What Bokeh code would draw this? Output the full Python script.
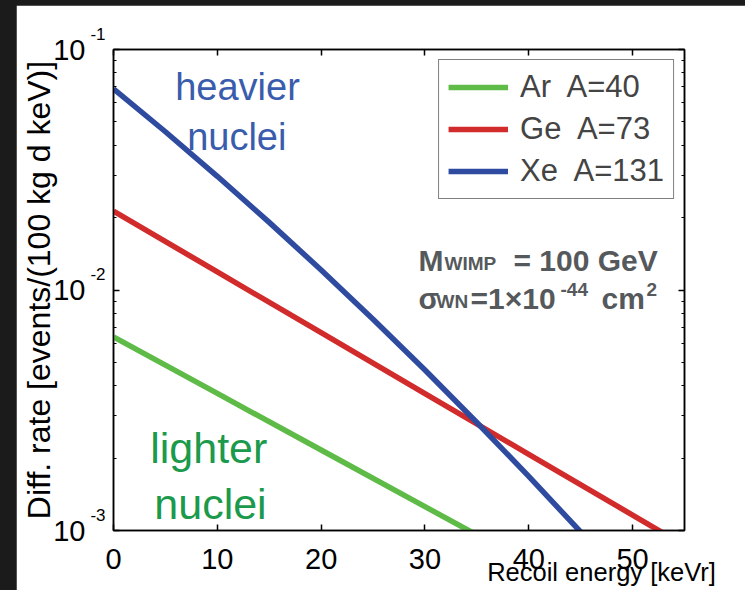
import math
from bokeh.plotting import figure
from bokeh.models import (Range1d, FixedTicker, LinearAxis, LogAxis, Label, Legend,
                          LegendItem, CustomJSTickFormatter, Spacer)
from bokeh.layouts import row, column
from bokeh.embed import file_html
from bokeh.resources import INLINE

# ---------------- data ----------------
energy_ar = [0, 10, 20, 30, 40]
rate_ar = [0.00638, 0.003714, 0.002161, 0.001257, 0.000731]

energy_ge = [0, 10, 20, 30, 40, 50, 55]
rate_ge = [0.0213, 0.01189, 0.006645, 0.003712, 0.002074, 0.001159, 0.000866]

energy_xe = [0, 5, 10, 15, 20, 25, 30, 35, 40, 45]
rate_xe = [0.0686, 0.0455, 0.0297, 0.01911, 0.01211, 0.00756, 0.004647, 0.002813, 0.001679, 0.000986]

series_names = ["Ar  A=40", "Ge  A=73", "Xe  A=131"]
series_colors = ["#5fbb47", "#d12b2b", "#2e4b9f"]

x_ticks = [0, 10, 20, 30, 40, 50]
y_ticks = [1e-3, 1e-2, 1e-1]
y_tick_exponents = ["-3", "-2", "-1"]
x_title = "Recoil energy [keVr]"
y_title = "Diff. rate [events/(100 kg d keV)]"

FONT = "Liberation Sans"
DARK = "#1b1b1b"

# ---------------- figure: canvas origin on the page at (16, 5) ----------------
OX, OY = 16, 5
W, H = 745 - OX, 590 - OY
BL, BR, BT, BB = 97, 61, 44, 60
p = figure(width=W, height=H, output_backend="svg", toolbar_location=None,
           x_range=Range1d(0, 55), y_range=Range1d(1e-3, 1e-1), y_axis_type="log",
           min_border_left=BL, min_border_right=BR, min_border_top=BT, min_border_bottom=BB)
p.background_fill_color = "white"
p.border_fill_color = "white"
p.outline_line_color = "black"
p.outline_line_width = 1.5
p.xgrid.visible = False
p.ygrid.visible = False

FL = OX + BL
FB = OY + H - BB
FW = W - BL - BR
FH = H - BT - BB
PXK = FW / 55.0
PXD = FH / 2.0

def dx(px):
    return (px - FL) / PXK

def dy(py):
    return 10 ** (-3 + (FB - py) / PXD)

minor = []
for dec in [1e-3, 1e-2]:
    for m in range(2, 10):
        minor.append(dec * m)

blank = CustomJSTickFormatter(code="return ''")

def tick_axis(ax, ticks, minor_ticks=None):
    ax.ticker = FixedTicker(ticks=ticks, minor_ticks=minor_ticks or [])
    ax.major_tick_in = 6
    ax.major_tick_out = 0
    ax.minor_tick_in = 3
    ax.minor_tick_out = 0
    ax.axis_line_color = "black"
    ax.axis_line_width = 1.5
    ax.major_tick_line_width = 1.5
    ax.minor_tick_line_width = 1.2

def label_axis(ax, ticks, formatter, size, standoff):
    ax.ticker = FixedTicker(ticks=ticks, minor_ticks=[])
    ax.axis_line_color = None
    ax.major_tick_line_color = None
    ax.minor_tick_line_color = None
    ax.major_tick_in = 0
    ax.major_tick_out = 0
    ax.minor_tick_in = 0
    ax.minor_tick_out = 0
    ax.formatter = formatter
    ax.major_label_text_font = FONT
    ax.major_label_text_font_size = size
    ax.major_label_text_color = "black"
    ax.major_label_standoff = standoff

# bottom: ticks + numbers
xa = p.xaxis[0]
tick_axis(xa, x_ticks)
xa.major_label_text_font = FONT
xa.major_label_text_font_size = "29px"
xa.major_label_text_color = "black"
xa.major_label_standoff = 18

# bottom, second row: axis title under the right part of the axis
xt = LinearAxis()
label_axis(xt, [dx(601)], CustomJSTickFormatter(code="return '%s'" % x_title), "25.5px", -14)
p.add_layout(xt, "below")

# left: tick marks next to the frame
ya = p.yaxis[0]
tick_axis(ya, y_ticks, minor)
ya.formatter = blank
ya.major_label_standoff = 0

# exponents, raised above each tick by a second (empty) line
exp_map = "{" + ",".join("%d:'%s\\n\\u00a0'" % (i, e) for i, e in enumerate(y_tick_exponents)) + "}"
ye = LogAxis()
label_axis(ye, y_ticks, CustomJSTickFormatter(code="return %s[index]" % exp_map), "17px", 8)
ye.major_label_text_line_height = 1.6
p.add_layout(ye, "left")

yb = LogAxis()
label_axis(yb, y_ticks, CustomJSTickFormatter(code="return '10'"), "29px", 2)
yb.axis_label = y_title
yb.axis_label_text_font = FONT
yb.axis_label_text_font_size = "32px"
yb.axis_label_text_font_style = "normal"
yb.axis_label_text_color = "black"
yb.axis_label_standoff = -7
p.add_layout(yb, "left")

top_ax = LinearAxis()
tick_axis(top_ax, x_ticks)
top_ax.formatter = blank
top_ax.major_label_standoff = 0
p.add_layout(top_ax, "above")
right_ax = LogAxis()
tick_axis(right_ax, y_ticks, minor)
right_ax.formatter = blank
right_ax.major_label_standoff = 0
p.add_layout(right_ax, "right")

# ---------------- lines ----------------
r_ar = p.line(energy_ar, rate_ar, line_color=series_colors[0], line_width=5.5)
r_ge = p.line(energy_ge, rate_ge, line_color=series_colors[1], line_width=5.5)
r_xe = p.line(energy_xe, rate_xe, line_color=series_colors[2], line_width=5.5)

legend = Legend(items=[LegendItem(label=series_names[0], renderers=[r_ar]),
                       LegendItem(label=series_names[1], renderers=[r_ge]),
                       LegendItem(label=series_names[2], renderers=[r_xe])],
                location="top_right")
legend.margin = 10
legend.padding = 9
legend.spacing = 6
legend.border_line_color = "black"
legend.border_line_width = 1.5
legend.background_fill_color = "white"
legend.background_fill_alpha = 1
legend.label_text_font = FONT
legend.label_text_font_size = "31px"
legend.label_height = 36
legend.glyph_height = 36
legend.glyph_width = 60
legend.label_standoff = 12
p.add_layout(legend, "center")

# ---------------- annotations (y given as the text's baseline on the page) ----------------
def add_text(txt, px, base, size, col, bold=False, align="left"):
    p.add_layout(Label(x=dx(px), y=dy(base - 0.35 * size), text=txt, text_font=FONT,
                       text_font_size="%dpx" % size,
                       text_font_style="bold" if bold else "normal",
                       text_align=align, text_baseline="middle", text_color=col))

blue_txt = "#3a5cac"
green_txt = "#1b9a4b"
add_text("heavier", 237, 100, 38, blue_txt, align="center")
add_text("nuclei", 236.3, 149.3, 38, blue_txt, align="center")
add_text("lighter", 208.3, 462.7, 43, green_txt, align="center")
add_text("nuclei", 210, 519, 43, green_txt, align="center")

gray = "#55595c"
for txt, px, base, size in [("M", 418, 270, 30), ("WIMP", 444, 270, 19),
                            ("= 100 GeV", 513, 270, 30),
                            ("σ", 418, 308, 30), ("WN", 436, 308, 19),
                            ("=1×10", 470, 308, 30), ("-44", 560, 296, 19),
                            ("cm", 601, 308, 30), ("2", 646, 296, 19)]:
    add_text(txt, px, base, size, gray, bold=True)

layout = column(Spacer(width=745, height=OY, styles={"background-color": DARK}),
                row(Spacer(width=OX, height=H, styles={"background-color": DARK}), p))

html = file_html(layout, INLINE, title="WIMP recoil spectra")
html = html.replace("<head>", "<head><style>html, body {background-color: %s;}</style>" % DARK, 1)
open("out.html", "w").write(html)
